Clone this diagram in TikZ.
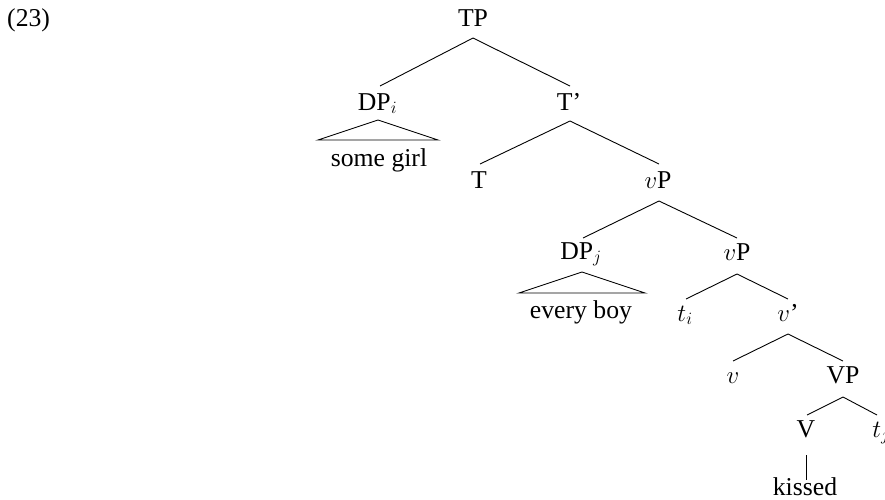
\documentclass[tikz,border=0pt]{standalone}
\usepackage{fontspec}
\setmainfont{Liberation Serif}
\begin{document}
\begin{tikzpicture}[x=1pt,y=-1pt,
  lbl/.style={inner sep=0pt, anchor=base, font=\fontsize{25.7}{30}\selectfont},
  edge/.style={line width=0.9pt, line join=miter}]
\useasboundingbox (0,0) rectangle (885,499);
% labels
\node[lbl, anchor=base west] (ex) at (7,26) {(23)};
\node[lbl] (TP)  at (473,26)  {TP};
\node[lbl] (DPi) at (377.5,110) {DP$_i$};
\node[lbl] (Tb)  at (569,110) {T’};
\node[lbl] (sg)  at (379,166) {some girl};
\node[lbl] (T)   at (479,188) {T};
\node[lbl] (vPa) at (658,188) {$v$P};
\node[lbl] (DPj) at (581,259) {DP$_j$};
\node[lbl] (eb)  at (581,318) {every boy};
\node[lbl] (vPb) at (737,260) {$v$P};
\node[lbl] (ti)  at (685,321) {$t_i$};
\node[lbl] (vb)  at (788,321) {$v$’};
\node[lbl] (v)   at (733,383) {$v$};
\node[lbl] (VP)  at (843,383) {VP};
\node[lbl] (V)   at (806,437) {V};
\node[lbl] (tj)  at (881,437) {$t_j$};
\node[lbl] (ks)  at (805,495) {kissed};
% edges
\draw[edge] ([xshift=2.5pt,yshift=24pt]DPi.base) -- ([yshift=-12pt]TP.base) -- ([xshift=1pt,yshift=24pt]Tb.base);
\draw[edge] ([xshift=1pt,yshift=24pt]T.base) -- ([xshift=1pt,yshift=-11pt]Tb.base) -- ([xshift=1pt,yshift=24pt]vPa.base);
\draw[edge] ([xshift=2pt,yshift=21pt]DPj.base) -- ([xshift=1pt,yshift=-13pt]vPa.base) -- ([yshift=22pt]vPb.base);
\draw[edge] ([xshift=1pt,yshift=22pt]ti.base) -- ([yshift=-14pt]vPb.base) -- ([yshift=22pt]vb.base);
\draw[edge] ([yshift=22pt]v.base) -- ([yshift=-13pt]vb.base) -- ([yshift=22pt]VP.base);
\draw[edge] ([xshift=1pt,yshift=22pt]V.base) -- ([yshift=-14pt]VP.base) -- ([xshift=-4pt,yshift=22pt]tj.base);
\draw[edge] ([yshift=-18pt]V.base) -- ([xshift=1pt,yshift=15pt]ks.base);
% triangles
\draw[edge] ([xshift=0.5pt,yshift=-10pt]DPi.base) -- ([xshift=-61pt,yshift=26pt]sg.base) -- ([xshift=59pt,yshift=26pt]sg.base) -- cycle;
\draw[edge] ([xshift=1pt,yshift=-13pt]DPj.base) -- ([xshift=-62pt,yshift=25pt]eb.base) -- ([xshift=64pt,yshift=25pt]eb.base) -- cycle;
\end{tikzpicture}
\end{document}
